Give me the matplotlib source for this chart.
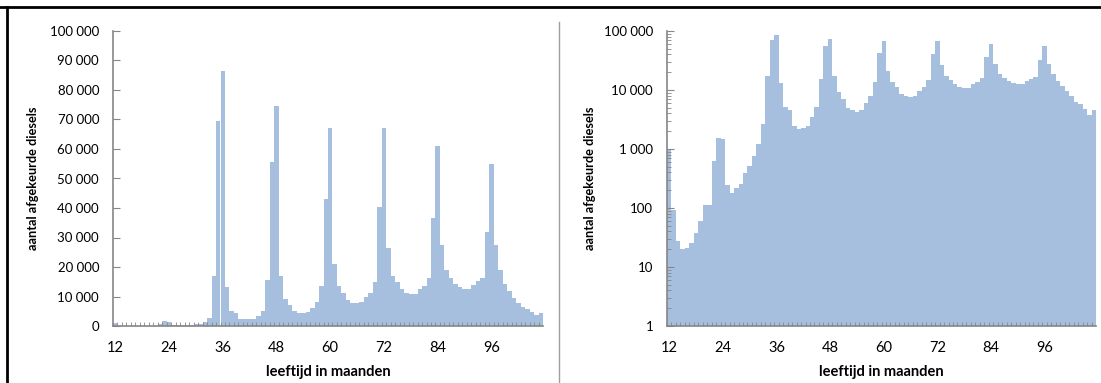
import numpy as np
import matplotlib.pyplot as plt
from matplotlib.lines import Line2D
from matplotlib.ticker import FuncFormatter, FixedLocator, LogLocator, NullFormatter

plt.rcParams['font.family'] = ['Lato', 'DejaVu Sans']

# leeftijd in maanden (12 .. 107)
maanden = list(range(12, 108))
aantal = [1000, 91, 27, 19, 20, 25, 37, 59, 111, 111,
          617, 1560, 1500, 240, 180, 215, 258, 387, 515, 750,
          1230, 2630, 17000, 69500, 86500, 13100, 5130, 4520, 2500, 2210,
          2300, 2500, 3480, 5130, 15500, 55500, 74500, 17000, 9300, 7100,
          4950, 4520, 4300, 4650, 6000, 8000, 13600, 43000, 67000, 21000,
          13600, 11100, 8700, 7800, 7700, 8000, 9700, 11250, 15000, 40500,
          67000, 26500, 17000, 15000, 12500, 11250, 10700, 10800, 12400, 13400,
          16200, 36500, 61000, 27500, 19000, 16200, 14200, 13200, 12400, 12400,
          14000, 15200, 16400, 32000, 55000, 27500, 19000, 14200, 11700, 9600,
          7900, 6300, 5700, 4800, 3700, 4500]
xlabels = [12, 24, 36, 48, 60, 72, 84, 96]
lin_ticks = list(range(0, 100001, 10000))
log_ticks = [1, 10, 100, 1000, 10000, 100000]

bar_color = '#a7bfde'
axis_color = '#868686'

fig = plt.figure(figsize=(11.01, 3.83), dpi=100)
ax1 = fig.add_axes([113/1101, 1-326/383, 430/1101, 295/383])
ax2 = fig.add_axes([667/1101, 1-326/383, 429/1101, 295/383])

fmt = FuncFormatter(lambda v, p: '{:,}'.format(int(round(v))).replace(',', ' '))
pos = np.arange(len(maanden))

for ax in (ax1, ax2):
    ax.bar(pos, aantal, width=1.0, color=bar_color, linewidth=0,
           bottom=0 if ax is ax1 else 1)
    ax.set_xlim(-0.5, len(maanden) - 0.5)
    for s in ['top', 'right']:
        ax.spines[s].set_visible(False)
    for s in ['left', 'bottom']:
        ax.spines[s].set_color(axis_color)
        ax.spines[s].set_linewidth(1.2)
    ax.set_xticks([maanden.index(m) for m in xlabels])
    ax.set_xticklabels([str(m) for m in xlabels])
    ax.xaxis.set_minor_locator(FixedLocator(pos - 0.5))
    ax.tick_params(axis='x', which='major', length=0, pad=11, labelsize=10.5)
    ax.tick_params(axis='x', which='minor', direction='in', length=3, color=axis_color)
    ax.tick_params(axis='y', which='both', direction='in', color=axis_color, labelsize=9.5, pad=10)
    ax.set_xlabel('leeftijd in maanden', fontweight='bold', fontsize=10.5, labelpad=7)
    ax.set_ylabel('aantal afgekeurde diesels', fontweight='bold', fontsize=9.2)

ax1.set_ylim(0, 100000)
ax1.set_yticks(lin_ticks)
ax1.yaxis.set_major_formatter(fmt)
ax1.tick_params(axis='y', length=5)
ax1.yaxis.set_label_coords(-0.172, 0.5)

ax2.set_yscale('log')
ax2.set_ylim(1, 100000)
ax2.set_yticks(log_ticks)
ax2.yaxis.set_major_formatter(fmt)
ax2.yaxis.set_minor_locator(LogLocator(base=10, subs=np.arange(2, 10)))
ax2.yaxis.set_minor_formatter(NullFormatter())
ax2.tick_params(axis='y', which='major', length=5)
ax2.tick_params(axis='y', which='minor', length=3)
ax2.yaxis.set_label_coords(-0.165, 0.5)

# rand en scheidingslijn
fig.add_artist(Line2D([0, 1], [1-7/383, 1-7/383], color='black', linewidth=2))
fig.add_artist(Line2D([7/1101, 7/1101], [0, 1-7/383], color='black', linewidth=2))
fig.add_artist(Line2D([559/1101, 559/1101], [0, 1-22/383], color='#a0a0a0', linewidth=1))

fig.savefig('out.png', dpi=100)
